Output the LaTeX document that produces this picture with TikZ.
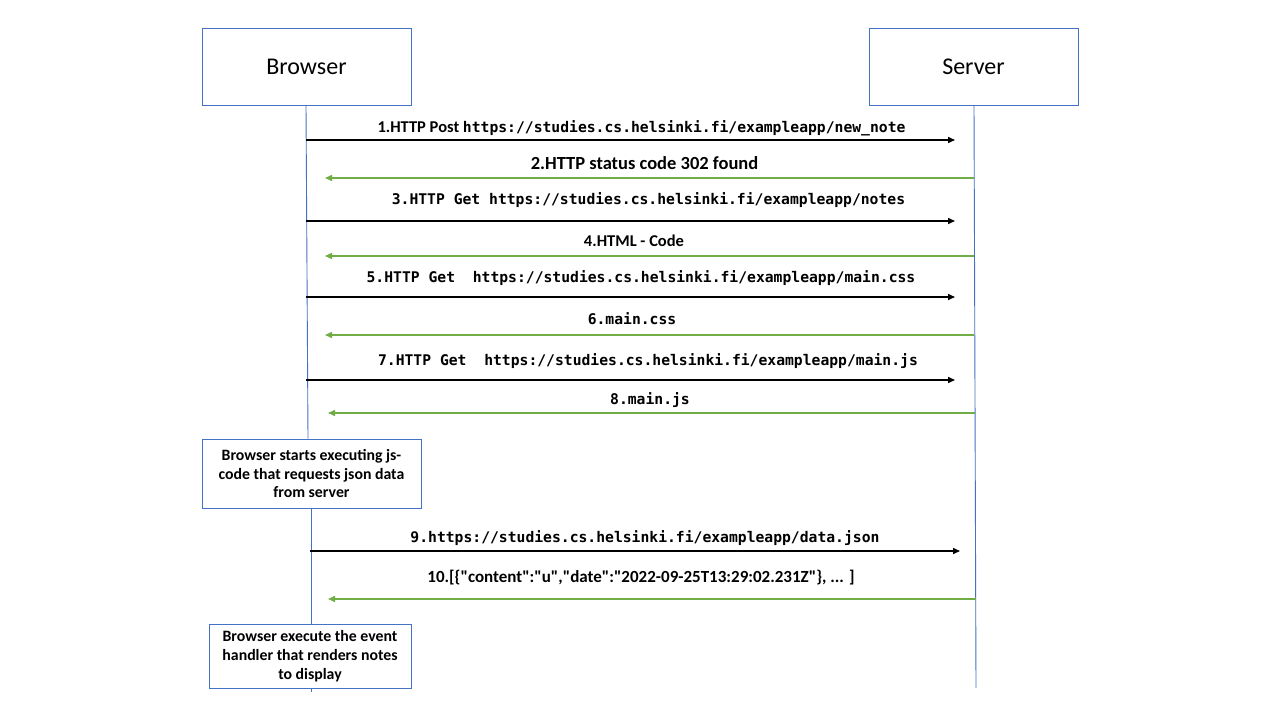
\documentclass[tikz,border=0pt]{standalone}
\usepackage{fontspec}
\setmainfont{Carlito}
\newfontfamily\plainc{Carlito}
\newfontfamily\monof{DejaVu Sans Mono}
\usetikzlibrary{arrows.meta}
\definecolor{lblue}{HTML}{4472C4}
\definecolor{lgreen}{HTML}{70AD47}
\tikzset{
  actor/.style={draw=lblue, line width=1pt, minimum width=209pt, minimum height=77pt, inner sep=0pt, font=\fontsize{24}{28}\selectfont},
  notebox/.style={draw=lblue, line width=1pt, fill=white, inner sep=0pt, align=center, font=\bfseries\fontsize{15.8}{18.7}\selectfont},
  life/.style={draw=lblue, line width=0.9pt},
  req/.style={draw=black, line width=1.5pt, -{Triangle[length=7pt,width=6pt]}},
  resp/.style={draw=lgreen, line width=1.5pt, -{Triangle[length=7pt,width=6pt]}},
  lbl/.style={inner sep=0pt, anchor=base, font=\bfseries\fontsize{16.5}{18}\selectfont},
  mono/.style={inner sep=0pt, anchor=base, font=\monof\bfseries\fontsize{14.7}{18}\selectfont}
}
\begin{document}
\begin{tikzpicture}[x=1pt,y=-1pt]
\useasboundingbox (0,0) rectangle (1280,720);
\fill[white] (0,0) rectangle (1280,720);
% actors
\node[actor] (b) at (306.5,66.5) {\raisebox{-1.5pt}{Browser}};
\node[actor] (s) at (973.5,66.5) {\raisebox{-1.5pt}{Server}};
% notes
\node[notebox, minimum width=219pt, minimum height=69pt] (n1) at (311.5,473.5) {Browser starts executing js-\\code that requests json data\\from server};
\node[notebox, minimum width=202pt, minimum height=64pt] (n2) at (310,656) {Browser execute the event\\handler that renders notes\\to display};
% lifeline coordinates
\coordinate (bend) at (311,692);
\coordinate (send) at (976,688);
\draw[life] (306,105) -- (n1.north -| 308,0);
\draw[life] (n1.south -| 311,0) -- (n2.north -| 311,0);
\draw[life] (n2.south -| 311,0) -- (bend);
\draw[life] (974,105) -- (send);
% message endpoints
\coordinate (a1) at (306,140); \coordinate (a1e) at (955,140);
\coordinate (a2) at (974,178); \coordinate (a2e) at (325,178);
\coordinate (a3) at (306,221); \coordinate (a3e) at (955,221);
\coordinate (a4) at (974,256); \coordinate (a4e) at (325,256);
\coordinate (a5) at (306,297); \coordinate (a5e) at (955,297);
\coordinate (a6) at (974,335); \coordinate (a6e) at (325,335);
\coordinate (a7) at (306,380); \coordinate (a7e) at (955,380);
\coordinate (a8) at (975,413); \coordinate (a8e) at (328,413);
\coordinate (a9) at (310,551); \coordinate (a9e) at (960,551);
\coordinate (a10) at (976,599); \coordinate (a10e) at (328,599);
\draw[req] (a1) -- (a1e);
\draw[resp] (a2) -- (a2e);
\draw[req] (a3) -- (a3e);
\draw[resp] (a4) -- (a4e);
\draw[req] (a5) -- (a5e);
\draw[resp] (a6) -- (a6e);
\draw[req] (a7) -- (a7e);
\draw[resp] (a8) -- (a8e);
\draw[req] (a9) -- (a9e);
\draw[resp] (a10) -- (a10e);
% labels
\node[lbl] (l1) at (641.5,132) {1.HTTP Post {\monof\fontsize{14.7}{18}\selectfont https://studies.cs.helsinki.fi/exampleapp/new\_note}};
\node[lbl, font=\bfseries\fontsize{18.5}{20}\selectfont] (l2) at (644.5,169) {2.HTTP status code 302 found};
\node[mono] (l3) at (648.5,204) {3.HTTP Get https://studies.cs.helsinki.fi/exampleapp/notes};
\node[lbl] (l4) at (634,246) {4.HTML - Code};
\node[mono] (l5) at (641,282) {5.HTTP Get\ \ https://studies.cs.helsinki.fi/exampleapp/main.css};
\node[mono] (l6) at (632,324) {6.main.css};
\node[mono] (l7) at (648,365) {7.HTTP Get\ \ https://studies.cs.helsinki.fi/exampleapp/main.js};
\node[mono] (l8) at (650,404) {8.main.js};
\node[mono] (l9) at (645,542) {9.https://studies.cs.helsinki.fi/exampleapp/data.json};
\node[lbl, font=\plainc\bfseries\fontsize{17}{20}\selectfont] (l10) at (641,582.5) {10.[\{"content":"u","date":"2022-09-25T13:29:02.231Z"\}, ... ]};
\end{tikzpicture}
\end{document}
